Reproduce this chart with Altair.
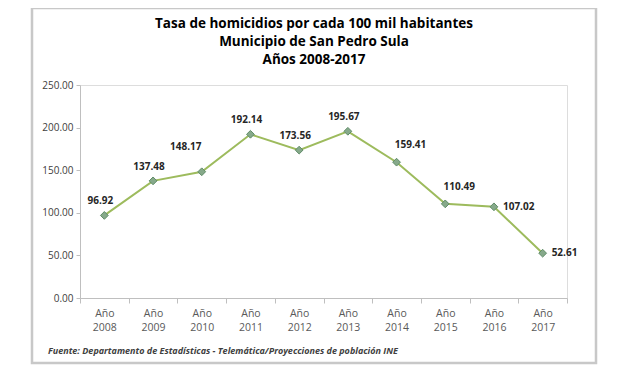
import altair as alt
import pandas as pd

years = ["2008", "2009", "2010", "2011", "2012", "2013", "2014", "2015", "2016", "2017"]
rates = [96.92, 137.48, 148.17, 192.14, 173.56, 195.67, 159.41, 110.49, 107.02, 52.61]

title_lines = ["Tasa de homicidios por cada 100 mil habitantes",
               "Municipio de San Pedro Sula",
               "Años 2008-2017"]
footnote = "Fuente: Departamento de Estadísticas - Telemática/Proyecciones de población INE"

# label placement groups
above = ["2008", "2009", "2011", "2012", "2013"]
above_left = ["2010"]
above_right = ["2014", "2015"]
right = ["2016", "2017"]

df = pd.DataFrame({"year": years, "rate": rates})
one = pd.DataFrame({"a": [0]})

W, H = 487, 213
FONT = "Open Sans"

x = alt.X("year:N", sort=years, title=None,
          scale=alt.Scale(paddingInner=0, paddingOuter=0),
          axis=alt.Axis(labelExpr="datum.value ? ['Año', datum.value] : ''", labelAngle=0,
                        labelFont=FONT, labelFontSize=10.5, labelColor="#595959",
                        labelLineHeight=14, labelPadding=5,
                        tickBand="extent", tickSize=5, tickColor="#bfbfbf",
                        domainColor="#bfbfbf", grid=False))
y = alt.Y("rate:Q", title=None,
          scale=alt.Scale(domain=[0, 250], nice=False),
          axis=alt.Axis(values=[0, 50, 100, 150, 200, 250], format=".2f",
                        labelFont=FONT, labelFontSize=10, labelColor="#404040",
                        tickSize=4, tickColor="#bfbfbf", domainColor="#bfbfbf",
                        labelPadding=3, grid=False))

base = alt.Chart(df)

border = alt.Chart(one).mark_rect(fill=None, stroke="#c8c8c8", strokeWidth=2.5).encode(
    x=alt.value(-48), x2=alt.value(516), y=alt.value(-77), y2=alt.value(278))

line = base.mark_line(color="#9dbb5d", strokeWidth=2).encode(x=x, y=y)
pts = base.mark_point(shape="diamond", filled=True, size=60, fill="#86a98a",
                      stroke="#5f8c68", strokeWidth=1, opacity=1).encode(x=x, y=y)

def labels(group, **kw):
    return base.transform_filter(
        alt.FieldOneOfPredicate(field="year", oneOf=group)
    ).mark_text(font=FONT, fontSize=10, fontWeight="bold", color="#262626", **kw).encode(
        x=x, y=y, text=alt.Text("rate:Q", format=".2f"))

lab_above = labels(above, dx=-4, dy=-14)
lab_above_left = labels(above_left, dx=-16, dy=-25)
lab_above_right = labels(above_right, dx=14, dy=-17)
lab_right = labels(right, align="left", dx=9, dy=0)

def title_line(i, ypos):
    return alt.Chart(pd.DataFrame({"t": [title_lines[i]]})).mark_text(
        font=FONT, fontSize=13.5, fontWeight="bold", color="#000000"
    ).encode(x=alt.value(234), y=alt.value(ypos), text="t:N")

t1 = title_line(0, -61)
t2 = title_line(1, -43)
t3 = title_line(2, -25)

foot = alt.Chart(pd.DataFrame({"t": [footnote]})).mark_text(
    font=FONT, fontSize=9, fontWeight="bold", fontStyle="italic", color="#404040", align="left"
).encode(x=alt.value(-32), y=alt.value(266), text="t:N")

chart = alt.layer(border, line, pts, lab_above, lab_above_left, lab_above_right, lab_right,
                  t1, t2, t3, foot).properties(
    width=W, height=H,
    autosize=alt.AutoSizeParams(type="none"),
    padding={"left": 72, "top": 77, "right": 60, "bottom": 70},
).configure_view(stroke=None).configure(background="white")

chart.save("out.html", embed_options={"renderer": "svg", "actions": False})
